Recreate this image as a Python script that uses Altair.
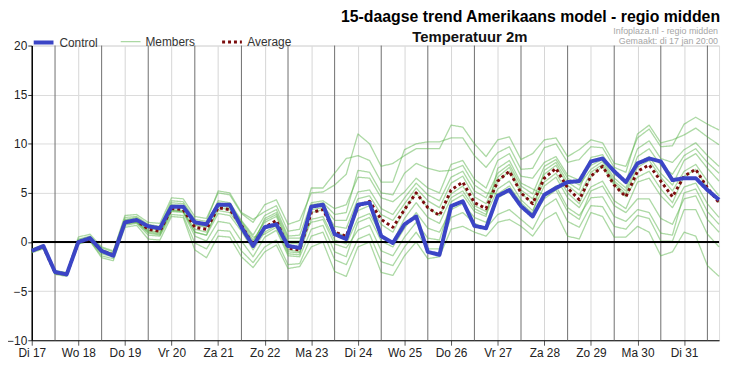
import altair as alt
import pandas as pd

# ---------------- data (6-hourly steps, step 0 = di 17 jan 12:00) ----------------
day_labels = ["Di 17", "Wo 18", "Do 19", "Vr 20", "Za 21", "Zo 22", "Ma 23", "Di 24",
              "Wo 25", "Do 26", "Vr 27", "Za 28", "Zo 29", "Ma 30", "Di 31"]
n_steps = 60
y_ticks = [-10, -5, 0, 5, 10, 15, 20]

control = [-0.9, -0.4, -3.05, -3.3, 0.0, 0.4, -0.9, -1.4, 2.0, 2.25,
           1.6, 1.4, 3.6, 3.6, 2.0, 1.8, 3.8, 3.8, 1.5, -0.4,
           1.5, 1.8, -0.4, -0.6, 3.6, 3.8, 0.8, 0.3, 3.8, 4.0,
           0.6, -0.1, 1.8, 2.6, -1.0, -1.3, 3.65, 4.15, 1.65, 1.4,
           4.7, 5.3, 3.65, 2.6, 4.8, 5.5, 6.1, 6.2, 8.2, 8.5,
           7.2, 6.1, 8.0, 8.5, 8.2, 6.3, 6.5, 6.5, 5.3, 4.3]

average = [-0.9, -0.5, -3.1, -3.3, 0.0, 0.3, -0.9, -1.3, 2.0, 2.2,
           1.3, 1.1, 3.4, 3.3, 1.5, 1.3, 3.5, 3.3, 1.7, -0.3,
           1.5, 2.2, -0.6, -0.8, 3.0, 3.3, 1.0, 0.6, 3.65, 4.15,
           2.3, 1.5, 3.3, 5.0, 3.5, 2.7, 5.3, 6.1, 4.0, 3.4,
           6.2, 7.2, 5.0, 3.9, 6.5, 7.5, 5.5, 4.3, 6.7, 7.7,
           5.8, 4.6, 7.2, 7.85, 6.2, 4.6, 6.7, 7.4, 5.5, 4.0]

member_01 = [-0.7, -0.3, -2.9, -3.1, 0.5, 0.8, -0.5, -0.9, 2.7, 2.8, 2.0, 1.9, 4.5, 4.4, 2.6, 2.4,
             5.0, 4.8, 2.9, 2.0, 3.8, 4.3, 1.8, 2.2, 5.0, 5.1, 5.8, 6.9, 11.0, 10.0, 7.7, 8.0,
             8.8, 9.5, 9.5, 9.5, 11.9, 11.7, 10.0, 8.7, 10.4, 10.7, 8.4, 9.0, 10.4, 10.6, 8.7, 9.4,
             10.4, 10.1, 8.0, 7.7, 10.6, 11.5, 9.7, 9.8, 12.0, 12.7, 12.0, 11.4]
member_02 = [-0.8, -0.3, -3.0, -3.2, 0.3, 0.6, -0.6, -1.0, 2.5, 2.6, 1.8, 1.6, 4.2, 4.1, 2.3, 2.1,
             5.2, 5.0, 3.0, 2.3, 3.1, 3.7, 1.1, 1.3, 5.5, 5.5, 7.0, 8.5, 8.8, 8.3, 6.1, 6.1,
             9.4, 10.0, 10.2, 10.2, 10.6, 10.6, 8.8, 7.6, 9.1, 9.7, 7.4, 7.5, 9.6, 10.0, 8.1, 8.4,
             9.7, 9.6, 7.6, 7.1, 11.0, 11.9, 10.1, 10.4, 10.9, 11.6, 10.7, 9.9]
member_03 = [-1.1, -0.7, -3.3, -3.5, -0.2, 0.1, -1.6, -1.9, 1.5, 1.7, 0.3, 0.2, 2.6, 2.5, -0.8, -1.6,
             0.6, 0.5, -1.5, -2.6, -1.0, -0.3, -2.7, -2.5, -0.5, 0.0, -3.0, -3.5, -0.5, 0.0, -3.1, -3.4,
             -1.4, 0.0, -1.7, -1.5, 1.3, 1.6, 1.0, 0.6, 2.0, 2.3, 1.6, 0.6, 2.3, 3.0, 0.6, 0.3,
             3.0, 2.6, 0.5, 0.5, 1.6, 1.0, -1.4, -1.0, 1.0, 0.6, -2.4, -3.5]
member_04 = [-1.0, -0.6, -3.2, -3.4, -0.2, 0.1, -1.4, -1.7, 1.7, 1.9, 0.7, 0.6, 2.8, 2.7, -0.1, -0.7,
             1.2, 1.1, -0.9, -2.1, -0.5, 0.2, -2.3, -2.2, 0.6, 1.0, -1.8, -2.3, 0.3, 0.8, -2.0, -2.4,
             -0.5, 1.0, -0.7, -0.7, 2.5, 3.0, 1.9, 1.4, 2.8, 3.3, 2.3, 1.3, 3.6, 4.4, 2.1, 1.5,
             3.7, 3.6, 1.6, 1.3, 2.7, 2.4, 0.1, 0.1, 3.3, 3.3, 0.8, -0.5]
member_05 = [-0.8, -0.4, -3.0, -3.2, 0.2, 0.5, -0.8, -1.2, 2.3, 2.5, 1.6, 1.5, 3.8, 3.7, 1.9, 1.7,
             4.2, 4.0, 2.2, 0.7, 2.7, 3.3, 0.6, 0.7, 4.0, 4.2, 3.4, 3.8, 6.6, 6.5, 4.5, 4.1,
             5.1, 6.5, 5.5, 5.0, 7.9, 8.3, 6.4, 5.5, 8.3, 9.0, 6.7, 6.5, 8.1, 8.7, 6.8, 6.3,
             7.8, 8.4, 6.5, 5.5, 8.7, 9.5, 7.8, 6.9, 8.8, 9.5, 8.1, 7.0]
member_06 = [-1.0, -0.6, -3.2, -3.4, -0.1, 0.2, -1.2, -1.5, 1.8, 2.0, 0.9, 0.7, 3.1, 3.0, 0.6, 0.1,
             2.1, 1.9, 0.1, -1.5, 0.5, 1.2, -1.4, -1.5, 1.3, 1.7, -1.0, -1.5, 2.0, 2.5, 0.1, -0.5,
             1.4, 3.0, 1.4, 1.0, 3.3, 3.9, 2.5, 2.0, 4.5, 5.2, 3.6, 2.6, 4.4, 5.3, 3.1, 2.3,
             5.2, 5.7, 3.7, 3.0, 4.4, 4.4, 2.4, 1.8, 4.4, 4.7, 2.3, 1.0]
member_07 = [-0.9, -0.5, -3.1, -3.3, 0.1, 0.4, -0.8, -1.2, 2.2, 2.3, 1.5, 1.3, 3.6, 3.5, 1.7, 1.5,
             3.8, 3.6, 2.0, 0.2, 2.0, 2.6, -0.1, -0.2, 3.5, 3.7, 2.2, 2.2, 5.1, 5.3, 3.4, 2.8,
             4.5, 6.0, 4.8, 4.2, 6.6, 7.2, 5.2, 4.5, 7.0, 7.9, 5.7, 4.9, 7.7, 8.4, 6.5, 5.8,
             7.4, 8.2, 6.2, 5.2, 8.0, 8.7, 7.0, 5.8, 8.3, 9.0, 7.5, 6.2]
member_08 = [-0.9, -0.5, -3.1, -3.3, 0.0, 0.3, -1.0, -1.4, 1.9, 2.1, 1.1, 0.9, 3.2, 3.1, 1.0, 0.7,
             2.9, 2.7, 1.1, -0.8, 1.0, 1.7, -1.0, -1.1, 2.3, 2.6, 0.2, -0.2, 2.4, 2.9, 0.7, 0.0,
             2.4, 4.0, 2.5, 1.9, 4.5, 5.2, 3.4, 2.8, 5.4, 6.2, 4.3, 3.2, 5.7, 6.6, 4.5, 3.5,
             5.6, 6.2, 4.2, 3.4, 6.1, 6.5, 4.7, 3.5, 5.6, 6.0, 3.9, 2.5]
member_09 = [-0.8, -0.4, -3.1, -3.2, 0.1, 0.4, -0.9, -1.2, 2.1, 2.3, 1.4, 1.2, 3.7, 3.6, 1.8, 1.6,
             3.7, 3.5, 1.8, 0.0, 2.2, 2.8, 0.1, 0.1, 3.3, 3.5, 1.6, 1.4, 4.4, 4.7, 2.8, 2.2,
             3.9, 5.5, 4.2, 3.5, 6.0, 6.7, 4.6, 3.9, 6.6, 7.6, 5.3, 4.4, 6.9, 7.8, 5.8, 4.8,
             7.1, 7.9, 6.0, 4.9, 7.6, 8.3, 6.6, 5.2, 7.2, 7.9, 6.2, 4.7]
member_10 = [-0.9, -0.5, -3.1, -3.3, 0.0, 0.3, -0.9, -1.3, 2.0, 2.1, 1.2, 1.0, 3.3, 3.2, 1.3, 1.0,
             3.2, 3.0, 1.4, -0.5, 1.3, 2.0, -0.8, -1.0, 3.0, 3.3, 1.0, 0.6, 3.2, 3.7, 1.8, 1.0,
             3.3, 5.0, 3.5, 2.7, 4.9, 5.7, 3.7, 3.1, 6.2, 7.2, 5.0, 3.9, 6.1, 7.0, 5.0, 3.9,
             6.7, 7.7, 5.8, 4.6, 6.6, 7.2, 5.4, 4.0, 6.7, 7.4, 5.5, 4.0]
member_11 = [-1.0, -0.5, -3.2, -3.3, 0.1, 0.4, -0.9, -1.2, 2.2, 2.4, 1.5, 1.4, 4.0, 3.9, 2.1, 1.9,
             4.0, 3.8, 2.1, 0.5, 0.8, 1.5, -1.2, -1.3, 3.8, 4.0, 2.8, 3.0, 7.3, 7.1, 5.0, 4.8,
             7.0, 8.0, 7.5, 7.2, 7.3, 7.8, 5.8, 5.0, 4.9, 5.7, 4.0, 2.9, 7.3, 8.1, 6.1, 5.3,
             8.6, 8.9, 6.9, 6.2, 9.5, 10.3, 8.5, 8.1, 9.4, 10.1, 8.8, 7.7]
member_12 = [-0.9, -0.5, -3.1, -3.3, -0.1, 0.2, -1.1, -1.4, 1.9, 2.0, 1.0, 0.8, 3.2, 3.1, 1.0, 0.7,
             3.5, 3.3, 1.7, -0.3, 2.4, 3.0, 0.4, 0.4, 2.0, 2.3, -0.2, -0.6, 1.2, 1.7, -0.9, -1.4,
             0.5, 2.0, 0.4, 0.2, 4.1, 4.8, 3.1, 2.6, 7.5, 8.3, 6.0, 5.4, 4.8, 5.7, 3.5, 2.7,
             4.5, 4.6, 2.6, 2.1, 3.3, 3.0, 0.9, 0.7, 5.0, 5.4, 3.1, 1.8]

members = [member_01, member_02, member_03, member_04, member_05, member_06,
           member_07, member_08, member_09, member_10, member_11, member_12]

# ---------------- long table ----------------
rows = []
for k, series in enumerate(members):
    for i, v in enumerate(series):
        rows.append({"step": i, "temp": v, "series": "Members", "run": f"m{k + 1:02d}"})
for i, v in enumerate(average):
    rows.append({"step": i, "temp": v, "series": "Average", "run": "avg"})
for i, v in enumerate(control):
    rows.append({"step": i, "temp": v, "series": "Control", "run": "ctl"})
df = pd.DataFrame(rows)

midnights = pd.DataFrame({"step": list(range(2, n_steps, 4))})
zero_df = pd.DataFrame({"temp": [0]})

FONT = "Liberation Sans"
W, H = 695, 298

labels_js = "[" + ",".join(f"'{d}'" for d in day_labels) + "]"
x_scale = alt.Scale(domain=[0, n_steps - 1], nice=False, zero=False)
y_scale = alt.Scale(domain=[-10, 20], nice=False)

x_enc = alt.X("step:Q", scale=x_scale,
              axis=alt.Axis(values=list(range(n_steps)), title=None, grid=True,
                            gridColor="#d6d6d6", gridWidth=1,
                            labelExpr=f"datum.value % 4 == 0 ? {labels_js}[datum.value / 4] : ''",
                            labelFlush=False, labelOverlap=False, labelFontSize=12,
                            labelColor="#222", labelFont=FONT, labelPadding=2,
                            tickSize=5, tickColor="#555", domainColor="#000", domainWidth=1))
y_enc = alt.Y("temp:Q", scale=y_scale,
              axis=alt.Axis(values=y_ticks, title=None, grid=True, gridColor="#dcdcdc",
                            labelFontSize=12, labelColor="#222", labelFont=FONT,
                            labelPadding=1, tickSize=4, tickColor="#333",
                            domainColor="#000", domainWidth=1.5))

dom = ["Control", "Members", "Average"]
legend = alt.Legend(orient="none", legendX=0, legendY=-15, direction="horizontal", title=None,
                    symbolType="stroke", symbolSize=400, labelFontSize=12, labelColor="#333",
                    labelFont=FONT, columnPadding=20, gridAlign="none", labelOffset=4)
color_enc = alt.Color("series:N", scale=alt.Scale(domain=dom, range=["#3b45c6", "#5ab34a", "#7b0d0d"]),
                      legend=legend)
width_enc = alt.StrokeWidth("series:N", scale=alt.Scale(type="ordinal", domain=dom, range=[4, 1.3, 3]),
                            legend=legend)
dash_enc = alt.StrokeDash("series:N", scale=alt.Scale(type="ordinal", domain=dom,
                                                      range=[[1, 0], [1, 0], [3, 3]]),
                          legend=legend)
opac_enc = alt.Opacity("series:N", scale=alt.Scale(type="ordinal", domain=dom, range=[1, 0.5, 1]),
                       legend=legend)


def series_layer(name):
    return alt.Chart(df).transform_filter(alt.datum.series == name).mark_line(
        strokeJoin="round", strokeCap="butt").encode(
        x=x_enc, y=y_enc, detail="run:N", color=color_enc, strokeWidth=width_enc,
        strokeDash=dash_enc, opacity=opac_enc)


day_rules = alt.Chart(midnights).mark_rule(color="#6e6e6e", strokeWidth=1).encode(x=alt.X("step:Q", scale=x_scale))
zero_rule = alt.Chart(zero_df).mark_rule(color="#000", strokeWidth=2).encode(y=alt.Y("temp:Q", scale=y_scale))


def label(text, x, y, size, color, weight="normal", align="right"):
    return alt.Chart(pd.DataFrame({"t": [text]})).mark_text(
        font=FONT, fontSize=size, fontWeight=weight, color=color, align=align, baseline="alphabetic"
    ).encode(x=alt.value(x), y=alt.value(y), text="t:N")


texts = [
    label("15-daagse trend Amerikaans model - regio midden", 696, -23.5, 16, "#000", "bold"),
    label("Infoplaza.nl - regio midden", 694, -12, 9, "#a6a6a6"),
    label("Gemaakt: di 17 jan 20:00", 694, -1.7, 9, "#a6a6a6"),
    label("Temperatuur 2m", 443, -4, 15, "#111", "bold", "center"),
]

chart = alt.layer(
    day_rules,
    series_layer("Members"),
    zero_rule,
    series_layer("Average"),
    series_layer("Control"),
    *texts,
).properties(
    width=W, height=H,
    padding={"left": 24, "top": 36, "right": 5, "bottom": 18},
    autosize=alt.AutoSizeParams(type="none"),
).configure_view(stroke="#222", strokeWidth=1).configure(font=FONT)

chart.save("out.html", embed_options={"renderer": "svg", "actions": False})
